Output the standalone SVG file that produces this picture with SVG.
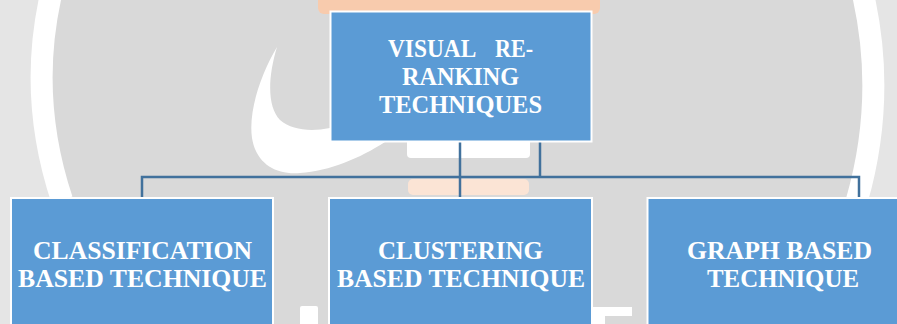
<svg xmlns="http://www.w3.org/2000/svg" width="897" height="324" viewBox="0 0 897 324">
<style>
.node rect{fill:#5b9bd5;stroke:#ffffff;stroke-width:2}
.node text{font-family:"Liberation Serif","Times New Roman",serif;font-weight:bold;font-size:26px;fill:#ffffff}
.conn{stroke:#41719c;stroke-width:2.5;fill:none}
</style>
<g id="watermark">
<rect x="0" y="0" width="897" height="324" fill="#d9d9d9"/>
<path d="M0,-10 L52,-10 Q27,95 62,200 L10,324 L0,324 Z" fill="#e5e5e5"/>
<path d="M897,-10 L862,-10 Q887,95 857,200 L897,324 Z" fill="#e5e5e5"/>
<path d="M52,-10 Q27,95 62,200" stroke="#ffffff" stroke-width="22" fill="none"/>
<path d="M862,-10 Q887,95 857,200" stroke="#ffffff" stroke-width="22" fill="none"/>
<path d="M277,47 C262,72 248,110 252,138 C256,163 275,175 300,173 C330,171 360,158 385,142 L330,128 C310,132 292,130 280,120 C268,108 267,80 277,47 Z" fill="#ffffff"/>
<rect x="407" y="130" width="123" height="28" rx="4" fill="#ffffff"/>
<rect x="408" y="179" width="121" height="16" rx="5" fill="#fbe4d5"/>
<rect x="318" y="-10" width="282" height="24" rx="6" fill="#f8cbad"/>
<rect x="300" y="306" width="18" height="30" rx="2" fill="#ffffff"/>
<path d="M593,307 L632,307 L632,316 L605,316 L605,324 L593,324 Z" fill="#ffffff"/>
</g>
<g id="connectors">
<path class="conn" d="M460,142 V198"/>
<path class="conn" d="M540,142 V177"/>
<path class="conn" d="M142,198 V177 H859 V198"/>
</g>
<g id="root" class="node">
<rect x="330.5" y="11.5" width="261" height="130"/>
<text y="57"><tspan x="388" textLength="87" lengthAdjust="spacingAndGlyphs">VISUAL</tspan> <tspan x="495" textLength="38" lengthAdjust="spacingAndGlyphs">RE-</tspan></text>
<text x="402" y="85" textLength="117" lengthAdjust="spacingAndGlyphs">RANKING</text>
<text x="379" y="113" textLength="163" lengthAdjust="spacingAndGlyphs">TECHNIQUES</text>
</g>
<g id="classification" class="node">
<rect x="11" y="198" width="262" height="140"/>
<text x="33" y="259" textLength="219" lengthAdjust="spacingAndGlyphs">CLASSIFICATION</text>
<text x="18" y="287" textLength="249" lengthAdjust="spacingAndGlyphs">BASED TECHNIQUE</text>
</g>
<g id="clustering" class="node">
<rect x="329" y="198" width="263" height="140"/>
<text x="378" y="259" textLength="165" lengthAdjust="spacingAndGlyphs">CLUSTERING</text>
<text x="337" y="287" textLength="248" lengthAdjust="spacingAndGlyphs">BASED TECHNIQUE</text>
</g>
<g id="graph" class="node">
<rect x="647.5" y="198" width="262" height="140"/>
<text x="687" y="259" textLength="185" lengthAdjust="spacingAndGlyphs">GRAPH BASED</text>
<text x="707" y="287" textLength="152" lengthAdjust="spacingAndGlyphs">TECHNIQUE</text>
</g>
</svg>
